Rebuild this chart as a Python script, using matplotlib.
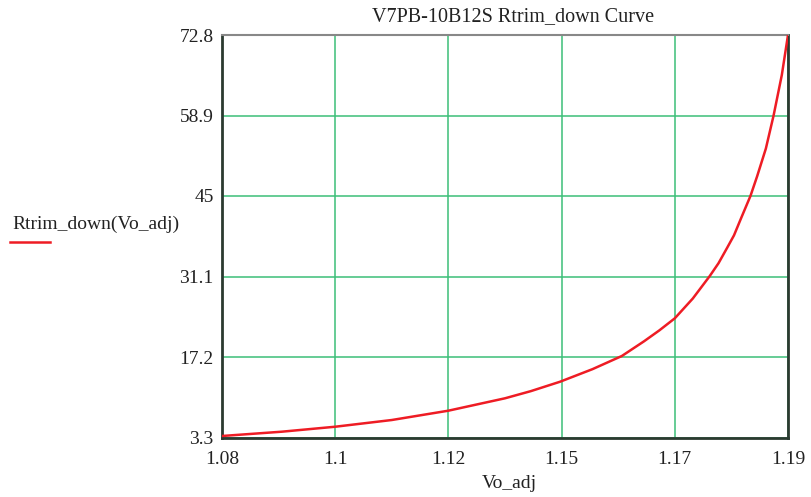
import matplotlib.pyplot as plt

# values
vo_adj = [1.0800, 1.0916, 1.1020, 1.1130, 1.1240, 1.1350, 1.1400, 1.1457,
          1.1520, 1.1577, 1.1620, 1.1650, 1.1680, 1.1715, 1.1748, 1.1765,
          1.1782, 1.1795, 1.1809, 1.1827, 1.1840, 1.1857, 1.1872, 1.1888,
          1.1900]
rtrim = [3.56, 4.30, 5.16, 6.32, 7.93, 10.07, 11.3, 12.93,
         15.1, 17.37, 19.9, 21.8, 23.88, 27.3, 31.19, 33.4,
         36.1, 38.2, 41.2, 45.0, 48.4, 53.2, 58.9, 65.9,
         72.8]

x_ticks = [1.08, 1.102, 1.124, 1.146, 1.168, 1.19]
x_labels = ['1.08', '1.1', '1.12', '1.15', '1.17', '1.19']
y_ticks = [3.3, 17.2, 31.1, 45, 58.9, 72.8]
y_labels = ['3.3', '17.2', '31.1', '45', '58.9', '72.8']

plt.rcParams['font.family'] = ['Liberation Serif', 'DejaVu Serif']

fig = plt.figure(figsize=(8.11, 4.97), dpi=100)
ax = fig.add_axes([222/811, 59.5/497, 566/811, 402.5/497])

ax.plot(vo_adj, rtrim, color='#ee1c24', linewidth=1.8, zorder=3)

ax.set_xlim(1.08, 1.19)
ax.set_ylim(3.3, 72.8)
ax.set_xticks(x_ticks)
ax.set_xticklabels(x_labels)
ax.set_yticks(y_ticks)
ax.set_yticklabels(y_labels)
ax.tick_params(length=0, labelsize=14, colors='#222222')
ax.tick_params(axis='x', pad=10)
ax.tick_params(axis='y', pad=6)
ax.grid(color='#3cbf78', linewidth=1.1)

for side in ['left', 'bottom', 'right']:
    ax.spines[side].set_color('#2b3a30')
    ax.spines[side].set_linewidth(2)
ax.spines['top'].set_color('#888888')
ax.spines['top'].set_linewidth(1.5)

fig.text(513/811, 1 - 17/497, 'V7PB-10B12S Rtrim_down Curve',
         ha='center', va='center', fontsize=14.5, color='#222222')
fig.text(509/811, 1 - 484/497, 'Vo_adj',
         ha='center', va='center', fontsize=14, color='#222222')
fig.text(12/811, 1 - 224/497, 'Rtrim_down(Vo_adj)',
         ha='left', va='center', fontsize=14, color='#222222')
fig.add_artist(plt.Line2D([10/811, 50/811], [1 - 242/497, 1 - 242/497],
                          color='#ee1c24', linewidth=1.8))

fig.savefig('out.png', dpi=100)
